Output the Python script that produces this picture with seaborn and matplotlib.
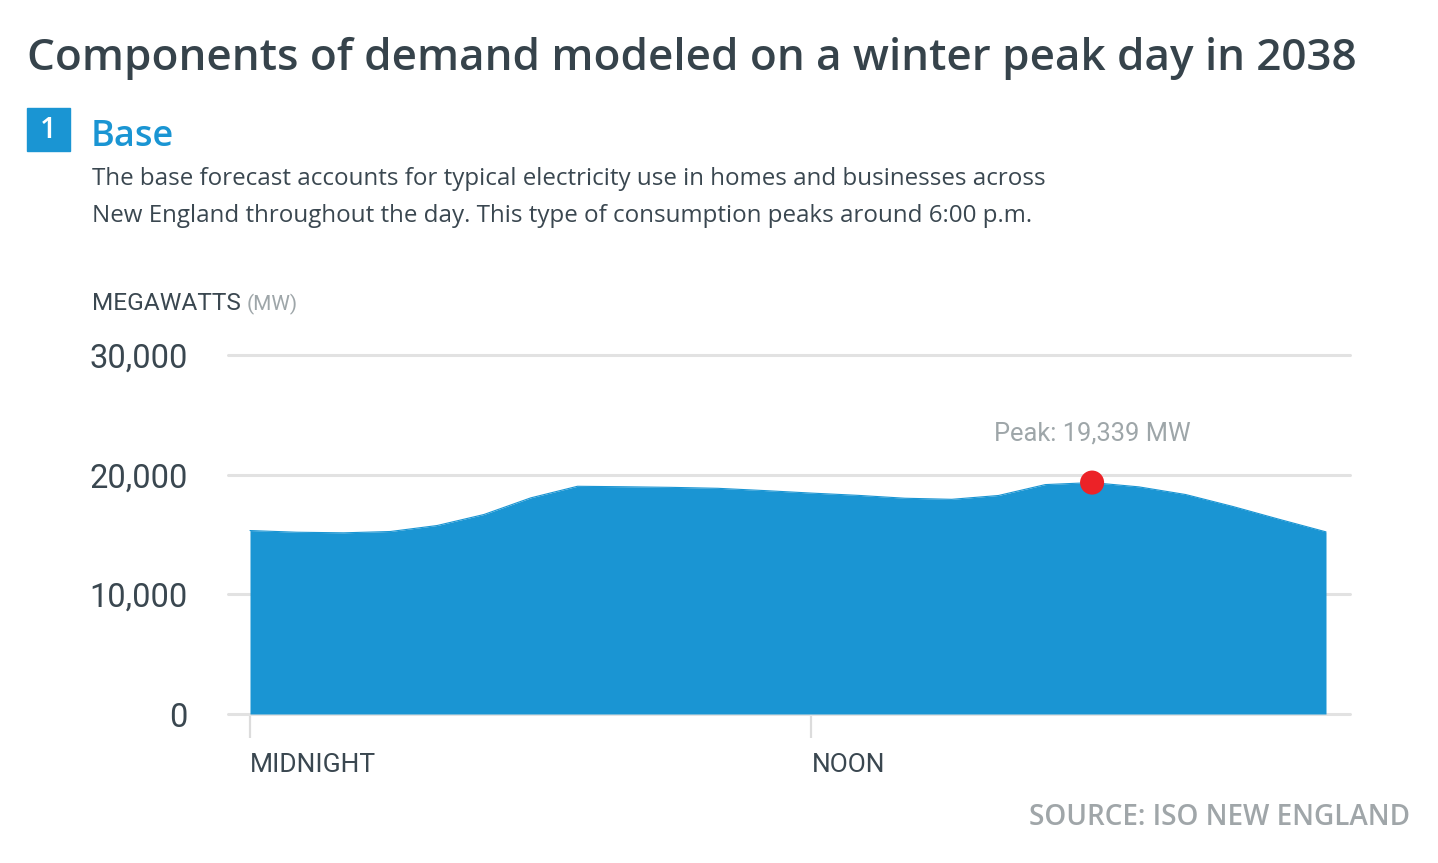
import matplotlib
matplotlib.use("Agg")
import matplotlib.pyplot as plt
import seaborn as sns
import numpy as np
import pandas as pd

# Base demand, winter peak day 2038 (MW), hourly
hours = list(range(24))
base_mw = [15330, 15190, 15140, 15250, 15750, 16670, 18060, 19030,
           18990, 18940, 18860, 18670, 18460, 18270, 18030, 17940,
           18260, 19170, 19339, 18980, 18340, 17350, 16270, 15220]
tick_hours = [0, 12]
tick_names = ["MIDNIGHT", "NOON"]
y_ticks = [0, 10000, 20000, 30000]

title = "Components of demand modeled on a winter peak day in 2038"
section = "Base"
blurb = ["The base forecast accounts for typical electricity use in homes and businesses across",
         "New England throughout the day. This type of consumption peaks around 6:00 p.m."]
source = "SOURCE: ISO NEW ENGLAND"

df = pd.DataFrame({"hour": hours, "mw": base_mw})
peak = df.loc[df["mw"].idxmax()]

BLUE = "#1a95d3"
DARK = "#3a4750"
GRAY = "#9ea6a9"
GRID = "#e2e2e2"
RED = "#ec2227"
NARROW = ["Roboto", "DejaVu Sans"]

sns.set_theme(style="white")
plt.rcParams["font.family"] = ["Open Sans", "DejaVu Sans"]

W, H = 1438, 863
fig = plt.figure(figsize=(W / 100, H / 100), dpi=100)

def fx(px):
    return px / W

def fy(py):
    return 1 - py / H

# axes placed so that 0 -> y 714, 30,000 -> y 355
ax = fig.add_axes([fx(228), fy(714), fx(1350) - fx(228), fy(355) - fy(714)])
x_per_hr = (1326 - 250) / 23
ax.set_xlim(-22 / x_per_hr, 23 + 24 / x_per_hr)
ax.set_ylim(0, 30000)

ax.fill_between(df["hour"], 0, df["mw"], color=BLUE, lw=0, zorder=2)
sns.lineplot(data=df, x="hour", y="mw", ax=ax, color=BLUE, lw=0.8, zorder=3)
sns.scatterplot(x=[peak["hour"]], y=[peak["mw"]], ax=ax, color=RED, s=300,
                edgecolor="none", zorder=5, clip_on=False)
ax.annotate("Peak: {:,.0f} MW".format(peak["mw"]), (peak["hour"], peak["mw"]),
            xytext=(0, 27), textcoords="offset points", ha="center", va="bottom",
            color=GRAY, fontsize=18.4, family=NARROW)

for v in y_ticks:
    ax.axhline(v, color=GRID, lw=2.2, zorder=1, clip_on=False)

for s in ax.spines.values():
    s.set_visible(False)
ax.set_xlabel("")
ax.set_ylabel("")
ax.set_yticks(y_ticks)
ax.set_yticklabels(["{:,}".format(v) for v in y_ticks], family=NARROW,
                   fontsize=23.5, color=DARK)
ax.tick_params(axis="y", left=False, length=0, pad=29)
ax.set_xticks(tick_hours)
ax.set_xticklabels(tick_names, family=NARROW, fontsize=19, color=DARK, ha="left")
ax.tick_params(axis="x", bottom=True, length=17, width=1.6, color="#dcdcdc",
               pad=11, direction="out")
ax.set_facecolor("white")

# headers
fig.text(fx(27), fy(70), title, fontsize=31.7, fontweight="semibold", color="#36434b",
         va="baseline", ha="left")
fig.patches.append(plt.Rectangle((fx(27), fy(151)), fx(43), fy(108) - fy(151),
                                 transform=fig.transFigure, color=BLUE))
fig.text(fx(48.5), fy(130), "1", fontsize=21, fontweight="semibold", color="white",
         ha="center", va="center")
fig.text(fx(91), fy(146), section, fontsize=26, fontweight="semibold", color=BLUE,
         va="baseline")
fig.text(fx(92), fy(185), blurb[0], fontsize=17.4, color=DARK, va="baseline")
fig.text(fx(92), fy(222), blurb[1], fontsize=17.4, color=DARK, va="baseline")
fig.text(fx(92), fy(310), "MEGAWATTS", fontsize=17.6, color=DARK, va="baseline",
         family=NARROW)
fig.text(fx(247), fy(310), "(MW)", fontsize=15, color=GRAY, va="baseline",
         family=NARROW)
fig.text(fx(1410), fy(825), source, fontsize=20.1, fontweight="semibold", color="#a0a6a9",
         ha="right", va="baseline")

fig.savefig("out.png", dpi=100, facecolor="white")
